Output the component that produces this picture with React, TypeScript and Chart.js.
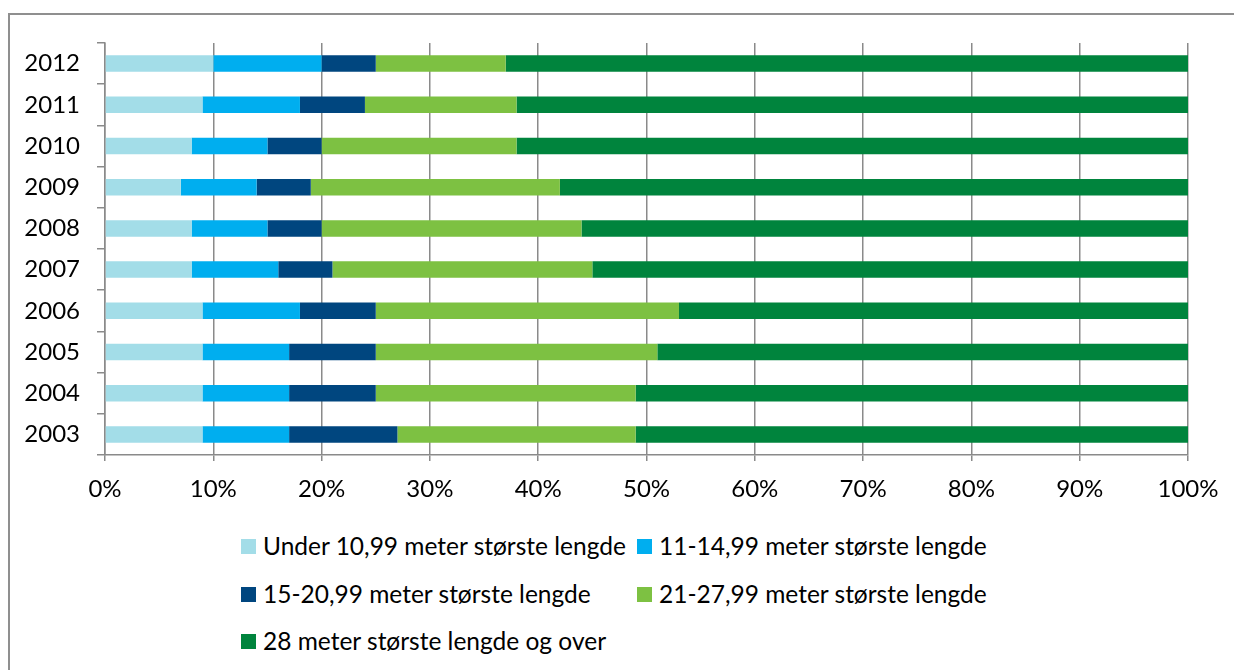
import React, { useEffect, useRef } from 'react';
import { Chart, registerables } from 'chart.js';

Chart.register(...registerables);

const years = ['2012', '2011', '2010', '2009', '2008', '2007', '2006', '2005', '2004', '2003'];
const under11 = [10, 9, 8, 7, 8, 8, 9, 9, 9, 9];
const m11to15 = [10, 9, 7, 7, 7, 8, 9, 8, 8, 8];
const m15to21 = [5, 6, 5, 5, 5, 5, 7, 8, 8, 10];
const m21to28 = [12, 14, 18, 23, 24, 24, 28, 26, 24, 22];
const m28plus = [63, 62, 62, 58, 56, 55, 47, 49, 51, 51];
const xTickLabels = ['0%', '10%', '20%', '30%', '40%', '50%', '60%', '70%', '80%', '90%', '100%'];

const seriesNames = [
  'Under 10,99 meter største lengde',
  '11-14,99 meter største lengde',
  '15-20,99 meter største lengde',
  '21-27,99 meter største lengde',
  '28 meter største lengde og over',
];
const seriesColors = ['#A3DDE8', '#00AEEF', '#00467F', '#7DC142', '#00843D'];
const seriesValues = [under11, m11to15, m15to21, m21to28, m28plus];

const FONT = 'Lato, "Open Sans", sans-serif';
const GRID = '#8a8a8a';

const legendPos = [
  { left: 241, top: 546.5 },
  { left: 637, top: 546.5 },
  { left: 241, top: 594.5 },
  { left: 637, top: 594.5 },
  { left: 241, top: 641.5 },
];

export default function App() {
  const ref = useRef<HTMLCanvasElement | null>(null);

  useEffect(() => {
    if (!ref.current) return;
    const chart = new Chart(ref.current, {
      type: 'bar',
      data: {
        labels: years,
        datasets: seriesNames.map((name, i) => ({
          label: name,
          data: seriesValues[i],
          backgroundColor: seriesColors[i],
          borderWidth: 0,
          categoryPercentage: 1,
          barPercentage: 0.4,
        })),
      },
      options: {
        indexAxis: 'y',
        responsive: false,
        animation: false,
        maintainAspectRatio: false,
        layout: { padding: { left: 0, right: 46, top: 43, bottom: 0 } },
        plugins: {
          legend: { display: false },
          tooltip: { enabled: false },
          title: { display: false },
        },
        scales: {
          x: {
            stacked: true,
            min: 0,
            max: 100,
            ticks: {
              stepSize: 10,
              color: '#000',
              padding: 14,
              font: { family: FONT, size: 24 },
              callback: (_v: any, idx: number) => xTickLabels[idx],
            },
            grid: {
              color: GRID,
              lineWidth: 1.5,
              drawTicks: true,
              tickLength: 6,
            },
            border: { color: GRID, width: 1.5 },
            afterFit: (scale: any) => {
              scale.height = 65;
            },
          },
          y: {
            stacked: true,
            ticks: {
              color: '#000',
              padding: 17,
              font: { family: FONT, size: 24 },
            },
            grid: {
              color: GRID,
              lineWidth: 1.5,
              drawOnChartArea: false,
              drawTicks: true,
              tickLength: 8,
              offset: true,
            },
            border: { color: GRID, width: 1.5 },
            afterFit: (scale: any) => {
              scale.width = 105;
            },
          },
        },
      },
    });
    return () => chart.destroy();
  }, []);

  return (
    <div
      style={{
        position: 'absolute',
        left: 0,
        top: 0,
        width: 1234,
        height: 670,
        overflow: 'hidden',
        background: '#fff',
        fontFamily: FONT,
      }}
    >
      <div
        style={{
          position: 'absolute',
          left: 8,
          top: 13,
          width: 1300,
          height: 800,
          borderLeft: '2px solid #8f8f8f',
          borderTop: '2px solid #8f8f8f',
        }}
      />
      <canvas
        ref={ref}
        width={1234}
        height={520}
        style={{ position: 'absolute', left: 0, top: 0, width: 1234, height: 520 }}
      />
      {seriesNames.map((name, i) => (
        <div
          key={name}
          style={{
            position: 'absolute',
            left: legendPos[i].left,
            top: legendPos[i].top - 12,
            height: 24,
            display: 'flex',
            alignItems: 'center',
            whiteSpace: 'nowrap',
            fontSize: 24.5,
            lineHeight: 1,
            color: '#000',
          }}
        >
          <span
            style={{
              display: 'inline-block',
              width: 15,
              height: 15,
              background: seriesColors[i],
              marginRight: 7,
            }}
          />
          <span>{name}</span>
        </div>
      ))}
    </div>
  );
}
